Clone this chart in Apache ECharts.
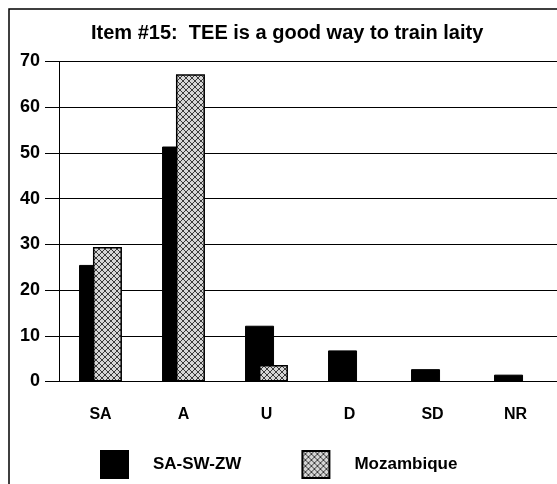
<!DOCTYPE html>
<html>
<head>
<meta charset="utf-8">
<script src="https://cdn.jsdelivr.net/npm/echarts@6/dist/echarts.min.js"></script>
<style>
  html, body { margin: 0; padding: 0; background: #fff; }
  #chart { width: 557px; height: 484px; }
</style>
</head>
<body>
<div id="chart"></div>
<script>
var categories = ['SA', 'A', 'U', 'D', 'SD', 'NR'];
var seriesNames = ['SA-SW-ZW', 'Mozambique'];
var saswzw = [25.5, 51.4, 12.2, 6.8, 2.7, 1.5];
var mozambique = [29.4, 67.2, 3.6, 0, 0, 0];
var yTicks = [0, 10, 20, 30, 40, 50, 60, 70];

// crosshatch fill for the scanned pattern bars
function makePattern() {
  var c = document.createElement('canvas');
  c.width = 6;
  c.height = 6;
  var ctx = c.getContext('2d');
  ctx.fillStyle = '#d6d6d6';
  ctx.fillRect(0, 0, 6, 6);
  ctx.strokeStyle = '#3a3a3a';
  ctx.lineWidth = 1;
  ctx.beginPath();
  ctx.moveTo(0, 0); ctx.lineTo(6, 6);
  ctx.moveTo(6, 0); ctx.lineTo(0, 6);
  ctx.stroke();
  return c;
}

// zero bars are not drawn in the original
function noZero(arr) {
  return arr.map(function (v) { return v === 0 ? '-' : v; });
}

var chart = echarts.init(document.getElementById('chart'), null, { renderer: 'canvas' });
var font = 'Liberation Sans, Arial, sans-serif';

var option = {
  backgroundColor: '#fff',
  animation: false,
  title: {
    text: 'Item #15:  TEE is a good way to train laity',
    left: 91,
    top: 23,
    padding: 0,
    textStyle: { fontFamily: font, fontSize: 20, fontWeight: 'bold', color: '#000' }
  },
  graphic: [{
    type: 'rect',
    shape: { x: 9, y: 9, width: 700, height: 700 },
    style: { fill: 'none', stroke: '#000', lineWidth: 1.5 },
    silent: true
  }],
  legend: {
    data: seriesNames,
    left: 100,
    top: 450,
    padding: 0,
    itemWidth: 27,
    itemHeight: 27,
    itemGap: 60,
    icon: 'rect',
    textStyle: { fontFamily: font, fontSize: 17, fontWeight: 'bold', color: '#000', padding: [0, 0, 0, 20] }
  },
  grid: { left: 59, top: 61.5, width: 506, height: 320 },
  xAxis: {
    type: 'category',
    data: categories,
    axisLine: { lineStyle: { color: '#000', width: 1 } },
    axisTick: { alignWithLabel: true, length: 8, lineStyle: { color: '#000' } },
    axisLabel: { fontFamily: font, fontSize: 16, fontWeight: 'bold', color: '#000', margin: 25 }
  },
  yAxis: {
    type: 'value',
    min: yTicks[0],
    max: yTicks[yTicks.length - 1],
    interval: 10,
    axisLine: { show: true, lineStyle: { color: '#000', width: 1 } },
    axisTick: { show: true, length: 14, lineStyle: { color: '#000' } },
    axisLabel: { fontFamily: font, fontSize: 18, fontWeight: 'bold', color: '#000', margin: 19 },
    splitLine: { lineStyle: { color: '#000', width: 1 } }
  },
  series: [{
    name: seriesNames[0],
    type: 'bar',
    data: noZero(saswzw),
    barWidth: 29,
    barGap: '-52%',
    itemStyle: { color: '#000', borderColor: '#000', borderWidth: 1 }
  }, {
    name: seriesNames[1],
    type: 'bar',
    data: noZero(mozambique),
    barWidth: 29,
    itemStyle: {
      color: { image: makePattern(), repeat: 'repeat' },
      borderColor: '#000',
      borderWidth: 1.5
    }
  }]
};

chart.setOption(option);
</script>
</body>
</html>
